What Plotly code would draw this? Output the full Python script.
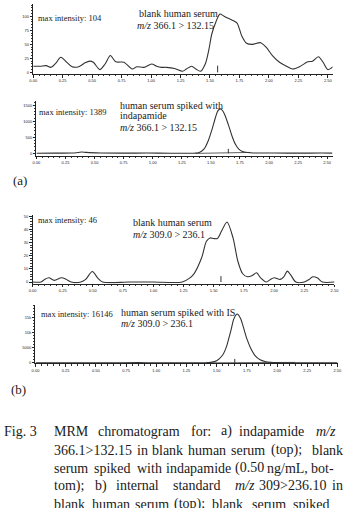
import plotly.graph_objects as go

W, H = 346, 508

# ---------------- data ----------------
# (a) top: blank human serum, m/z 366.1 > 132.15
a1_time = [0.00, 0.06, 0.11, 0.15, 0.19, 0.234, 0.28, 0.33, 0.386, 0.44, 0.48, 0.51, 0.565, 0.61,
           0.655, 0.70, 0.77, 0.84, 0.88, 0.94, 1.005, 1.047, 1.09, 1.13, 1.20, 1.267, 1.30, 1.345,
           1.38, 1.42, 1.46, 1.49, 1.515, 1.55, 1.585, 1.62, 1.66, 1.70, 1.73, 1.77, 1.81, 1.86,
           1.93, 1.98, 2.03, 2.09, 2.14, 2.20, 2.26, 2.33, 2.37, 2.42, 2.46, 2.50, 2.53, 2.545]
a1_int = [11, 11, 12, 9, 16, 27, 19, 10, 10, 17, 20, 18, 5, 15,
          30, 19, 18, 6, 10, 9, 15, 11, 9, 9, 7, 2, 6, 11,
          6, 2, 15, 40, 68, 90, 104, 100, 96, 92, 88, 65, 52, 50,
          53, 44, 30, 18, 12, 6, 10, 19, 20, 28, 18, 5, 8, 10]
a1_rt = [1.565, 1.565]
a1_rt_h = [0, 12]

# (a) bottom: human serum spiked with indapamide
a2_time = [0.00, 0.15, 0.30, 0.36, 0.39, 0.43, 0.55, 0.75, 0.95, 1.15, 1.30, 1.36, 1.40, 1.44,
           1.48, 1.51, 1.54, 1.56, 1.58, 1.60, 1.62, 1.65, 1.68, 1.71, 1.74, 1.77, 1.80, 1.84,
           1.90, 2.05, 2.25, 2.45, 2.545]
a2_int = [5, 8, 10, 30, 45, 30, 12, 8, 10, 6, 5, 6, 30, 130,
          420, 750, 1130, 1330, 1389, 1340, 1200, 900, 560, 290, 130, 60, 35, 20,
          12, 10, 8, 10, 8]
a2_base_t = [1.37, 1.65, 1.84]
a2_base_i = [0, 15, 30]
a2_rt = [1.65, 1.65]
a2_rt_h = [0, 140]

# (b) top: blank human serum, m/z 309.0 > 236.1
b1_time = [0.00, 0.07, 0.10, 0.135, 0.18, 0.24, 0.28, 0.32, 0.40, 0.44, 0.495, 0.54, 0.58, 0.80,
           1.00, 1.24, 1.30, 1.335, 1.40, 1.44, 1.47, 1.50, 1.53, 1.564, 1.61, 1.66, 1.70, 1.74,
           1.78, 1.82, 1.855, 1.89, 1.935, 1.97, 2.00, 2.05, 2.08, 2.11, 2.14, 2.18, 2.25, 2.29,
           2.32, 2.36, 2.40, 2.50]
b1_int = [0, 0, 2, 3.3, 1.3, 3.3, 2, 0, 0, 2, 8, 3, 0, 0,
          0, 0, 3, 6, 18.4, 31, 33.5, 33, 33, 38.5, 45.6, 33.5, 15.8, 6.3,
          4, 5, 7, 3, 0, 2, 3.3, 2, 4, 8.3, 5, 0, 0, 2,
          4, 3, 0, 0]
b1_rt = [1.56, 1.56]
b1_rt_h = [0, 4.5]

# (b) bottom: human serum spiked with IS
b2_time = [0.00, 0.30, 0.60, 0.85, 1.00, 1.20, 1.35, 1.41, 1.45, 1.50, 1.55, 1.58, 1.60, 1.62,
           1.64, 1.66, 1.67, 1.68, 1.70, 1.72, 1.75, 1.78, 1.82, 1.86, 1.90, 1.95, 2.00, 2.05,
           2.10, 2.20, 2.35, 2.50]
b2_int = [0, 0, 0, 60, 0, 0, 0, 30, 150, 700, 2600, 5200, 8000, 11000,
          14300, 15900, 16146, 15900, 14500, 12000, 8000, 5000, 2300, 1000, 450, 180, 80, 40,
          20, 0, 0, 0]
b2_base_t = [1.41, 1.65, 2.15]
b2_base_i = [0, 60, 150]
b2_rt = [1.65, 1.65]
b2_rt_h = [0, 1300]

x_ticks = [0.00, 0.25, 0.50, 0.75, 1.00, 1.25, 1.50, 1.75, 2.00, 2.25, 2.50]
y_ticks_a1 = [0, 25, 50, 75, 100]
y_ticks_a2 = [0, 500, 1000, 1500]
y_ticks_b1 = [0, 10, 20, 30, 40, 50]
y_ticks_b2 = [0, 5000, 10000, 15000]

# ---------------- layout helpers ----------------
def xdom(x0, x1):
    return [x0 / W, x1 / W]

def ydom(top, bottom):
    return [1 - bottom / H, 1 - top / H]

LINE = "#333333"
TICKFONT = dict(family="Liberation Sans", size=4, color="#222")

def xaxis(dom, rng, anchor):
    return dict(domain=dom, range=rng, anchor=anchor, showline=True, linecolor="#222",
                linewidth=1, ticks="outside", ticklen=2.5, tickwidth=0.7, tickcolor="#222",
                tickvals=x_ticks, tickformat=".2f", tickfont=TICKFONT, showgrid=False,
                zeroline=False, fixedrange=True,
                minor=dict(dtick=0.05, tick0=0, ticks="outside", ticklen=1.3, tickwidth=0.6,
                           tickcolor="#333"))

def yaxis(dom, rng, anchor, ticks, minor_dtick):
    return dict(domain=dom, range=rng, anchor=anchor, showline=True, linecolor="#222",
                linewidth=1, ticks="outside", ticklen=2.5, tickwidth=0.7, tickcolor="#222",
                tickvals=ticks, tickfont=TICKFONT, showgrid=False, zeroline=False,
                fixedrange=True,
                minor=dict(dtick=minor_dtick, tick0=0, ticks="outside", ticklen=1.3,
                           tickwidth=0.6, tickcolor="#333"))

fig = go.Figure()

def curve(x, y, n, width=1.1, color=LINE, shape="spline"):
    fig.add_trace(go.Scatter(x=x, y=y, mode="lines", xaxis=f"x{n}", yaxis=f"y{n}",
                             line=dict(color=color, width=width, shape=shape,
                                       smoothing=0.8 if shape == "spline" else None),
                             hoverinfo="skip", showlegend=False))

curve(a1_time, a1_int, 1)
curve(a1_rt, a1_rt_h, 1, width=1, shape="linear")
curve(a2_time, a2_int, 2)
curve(a2_base_t, a2_base_i, 2, width=0.8, shape="linear")
curve(a2_rt, a2_rt_h, 2, width=1, shape="linear")
curve(b1_time, b1_int, 3)
curve(b1_rt, b1_rt_h, 3, width=1, shape="linear")
curve(b2_time, b2_int, 4)
curve(b2_base_t, b2_base_i, 4, width=0.8, shape="linear")
curve(b2_rt, b2_rt_h, 4, width=1, shape="linear")

layout = dict(
    width=W, height=H, margin=dict(l=0, r=0, t=0, b=0),
    paper_bgcolor="white", plot_bgcolor="white", showlegend=False,
    xaxis=xaxis(xdom(30, 337.3), [0, 2.54], "y"),
    yaxis=yaxis(ydom(3, 73.5), [-3, 122], "x", y_ticks_a1, 5),
    xaxis2=xaxis(xdom(33.3, 337.3), [0, 2.546], "y2"),
    yaxis2=yaxis(ydom(101, 155.7), [-75, 1624], "x2", y_ticks_a2, 100),
    xaxis3=xaxis(xdom(29.3, 339.3), [0, 2.5], "y3"),
    yaxis3=yaxis(ydom(215, 284.3), [-1.2, 51.1], "x3", y_ticks_b1, 2),
    xaxis4=xaxis(xdom(32.3, 342.7), [0, 2.503], "y4"),
    yaxis4=yaxis(ydom(306, 364.5), [-165, 19075], "x4", y_ticks_b2, 1000),
)

ann = []

def text(t, px, py, size, color="#1a1a1a", anchor="left"):
    ann.append(dict(text=t, x=px / W, y=1 - py / H, xref="paper", yref="paper",
                    xanchor=anchor, yanchor="middle", showarrow=False, borderpad=0,
                    borderwidth=0,
                    font=dict(family="Liberation Serif", size=size, color=color)))

# panel labels
text("max intensity: 104", 35, 17, 8.5)
text("blank human serum", 139, 12.5, 10)
text("<i>m/z</i> 366.1 &gt; 132.15", 137, 25, 10)

text("max intensity: 1389", 36, 112, 8.5)
text("human serum spiked with", 119, 105.5, 10)
text("indapamide", 119, 115.5, 10)
text("<i>m/z</i> 366.1 &gt; 132.15", 119, 127, 10)

text("max intensity: 46", 35, 220, 8.5)
text("blank human serum", 132, 223, 10)
text("<i>m/z</i> 309.0 &gt; 236.1", 132, 234.5, 10)

text("max intensity: 16146", 38, 315, 8.5)
text("human serum spiked with IS", 120, 313.5, 10)
text("<i>m/z</i> 309.0 &gt; 236.1", 120, 324.5, 10)

text("(a)", 9, 181, 13)
text("(b)", 7, 391, 13)

# caption (justified lines, placed word by word)
caption = [
    (433, [("Fig. 3", 0), ("MRM", 51.7), ("chromatogram", 96.7), ("for:", 191.7), ("a)", 222.7),
           ("indapamide", 241.7), ("<i>m/z</i>", 320)]),
    (451.7, [("366.1&gt;132.15", 51.7), ("in", 136.7), ("blank", 151.7), ("human", 189.3),
             ("serum", 233.3), ("(top);", 274), ("blank", 316)]),
    (470, [("serum", 51.7), ("spiked", 92.3), ("with", 136.7), ("indapamide", 166.7),
           ("(0.50", 237.3), ("ng/mL,", 270), ("bot-", 315)]),
    (487.7, [("tom);", 51.7), ("b)", 93.3), ("internal", 115), ("standard", 173.3),
             ("<i>m/z</i>", 237.3), ("309&gt;236.10", 261.7), ("in", 336.7)]),
    (506, [("blank", 51.7), ("human", 90), ("serum", 135), ("(top);", 175), ("blank", 213.3),
           ("serum", 255), ("spiked", 296.7)]),
]
for py, words in caption:
    for w, px in words:
        text(w, px, py, 14)

layout["annotations"] = ann
fig.update_layout(**layout)
fig.write_html("out.html")
